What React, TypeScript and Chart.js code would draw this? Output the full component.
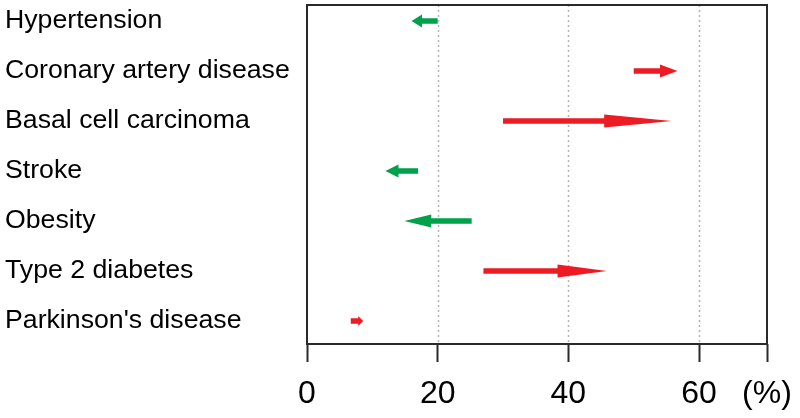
import React, { useEffect, useRef } from 'react';
import { Chart, registerables } from 'chart.js';

Chart.register(...registerables);

const categories = [
  'Hypertension',
  'Coronary artery disease',
  'Basal cell carcinoma',
  'Stroke',
  'Obesity',
  'Type 2 diabetes',
  "Parkinson's disease",
];
const fromValues = [20, 50, 30, 17, 25.2, 27, 6.7];
const toValues = [16, 56.7, 55.8, 12, 14.9, 45.9, 8.6];
const xTickValues = [0, 20, 40, 60];
const xMax = 70.4;
const unitLabel = '(%)';

const RED = '#ed1c24';
const GREEN = '#00a14b';

const arrowPlugin = {
  id: 'arrowPlugin',
  beforeDatasetsDraw(chart: any) {
    const { ctx, chartArea: a, scales } = chart;
    const x = scales.x;
    ctx.save();
    ctx.strokeStyle = '#b4b4b4';
    ctx.lineWidth = 1.5;
    ctx.setLineDash([2, 3]);
    for (const v of xTickValues) {
      if (v === 0) continue;
      const px = Math.round(x.getPixelForValue(v)) + 0.5;
      ctx.beginPath();
      ctx.moveTo(px, a.top);
      ctx.lineTo(px, a.bottom);
      ctx.stroke();
    }
    ctx.setLineDash([]);
    ctx.strokeStyle = '#2a2a2a';
    ctx.lineWidth = 2;
    ctx.strokeRect(a.left, a.top, a.right - a.left, a.bottom - a.top);
    ctx.restore();
  },
  afterDatasetsDraw(chart: any) {
    const { ctx, scales } = chart;
    const x = scales.x;
    const y = scales.y;
    ctx.save();
    for (let i = 0; i < categories.length; i++) {
      const py = y.getPixelForValue(i);
      const x0 = x.getPixelForValue(fromValues[i]);
      const x1 = x.getPixelForValue(toValues[i]);
      const dir = x1 >= x0 ? 1 : -1;
      const len = Math.abs(x1 - x0);
      const headLen = len * 0.4;
      const s = 2.8;
      const h = len < 20 ? 5 : 6.5;
      const xh = x1 - dir * headLen;
      ctx.fillStyle = dir > 0 ? RED : GREEN;
      ctx.beginPath();
      ctx.moveTo(x0, py - s);
      ctx.lineTo(xh, py - s);
      ctx.lineTo(xh, py - h);
      ctx.lineTo(x1, py);
      ctx.lineTo(xh, py + h);
      ctx.lineTo(xh, py + s);
      ctx.lineTo(x0, py + s);
      ctx.closePath();
      ctx.fill();
    }
    ctx.restore();
  },
};

export default function App() {
  const ref = useRef<HTMLCanvasElement>(null);
  useEffect(() => {
    document.body.style.margin = '0';
    const canvas = ref.current;
    if (!canvas) return;
    const chart = new Chart(canvas, {
      type: 'scatter',
      data: {
        datasets: [
          {
            data: fromValues.map((v, i) => ({ x: v, y: i })),
            pointRadius: 0,
            pointHoverRadius: 0,
          },
        ],
      },
      options: {
        animation: false,
        responsive: false,
        events: [],
        layout: { padding: { left: 5, top: 5, right: 33, bottom: 0 } },
        plugins: { legend: { display: false }, tooltip: { enabled: false } },
        scales: {
          x: {
            type: 'linear',
            min: 0,
            max: xMax,
            afterBuildTicks: (s: any) => {
              s.ticks = [...xTickValues, xMax].map((v) => ({ value: v }));
            },
            afterFit: (s: any) => {
              s.height = 74;
              s.paddingLeft = 0;
              s.paddingRight = 0;
            },
            ticks: {
              autoSkip: false,
              maxRotation: 0,
              padding: 13,
              color: '#000',
              font: { family: 'Liberation Sans, Arial, sans-serif', size: 32 },
              callback: (v: any) => (v === xMax ? unitLabel : String(v)),
            },
            grid: {
              drawOnChartArea: false,
              drawTicks: true,
              tickLength: 18,
              tickWidth: 2,
              tickColor: '#2a2a2a',
              color: 'rgba(0,0,0,0)',
            },
            border: { display: false },
          },
          y: {
            type: 'linear',
            min: -0.32,
            max: 6.46,
            reverse: true,
            afterBuildTicks: (s: any) => {
              s.ticks = categories.map((_, i) => ({ value: i }));
            },
            afterFit: (s: any) => {
              s.width = 302;
              s.paddingTop = 0;
              s.paddingBottom = 0;
            },
            ticks: {
              autoSkip: false,
              crossAlign: 'far',
              padding: 0,
              color: '#000',
              font: { family: 'Liberation Sans, Arial, sans-serif', size: 26.7 },
              callback: (v: any) => categories[v as number] ?? '',
            },
            grid: { display: false },
            border: { display: false },
          },
        },
      },
      plugins: [arrowPlugin],
    });
    return () => chart.destroy();
  }, []);
  return (
    <div style={{ width: 800, height: 418 }}>
      <canvas ref={ref} width={800} height={418} />
    </div>
  );
}
